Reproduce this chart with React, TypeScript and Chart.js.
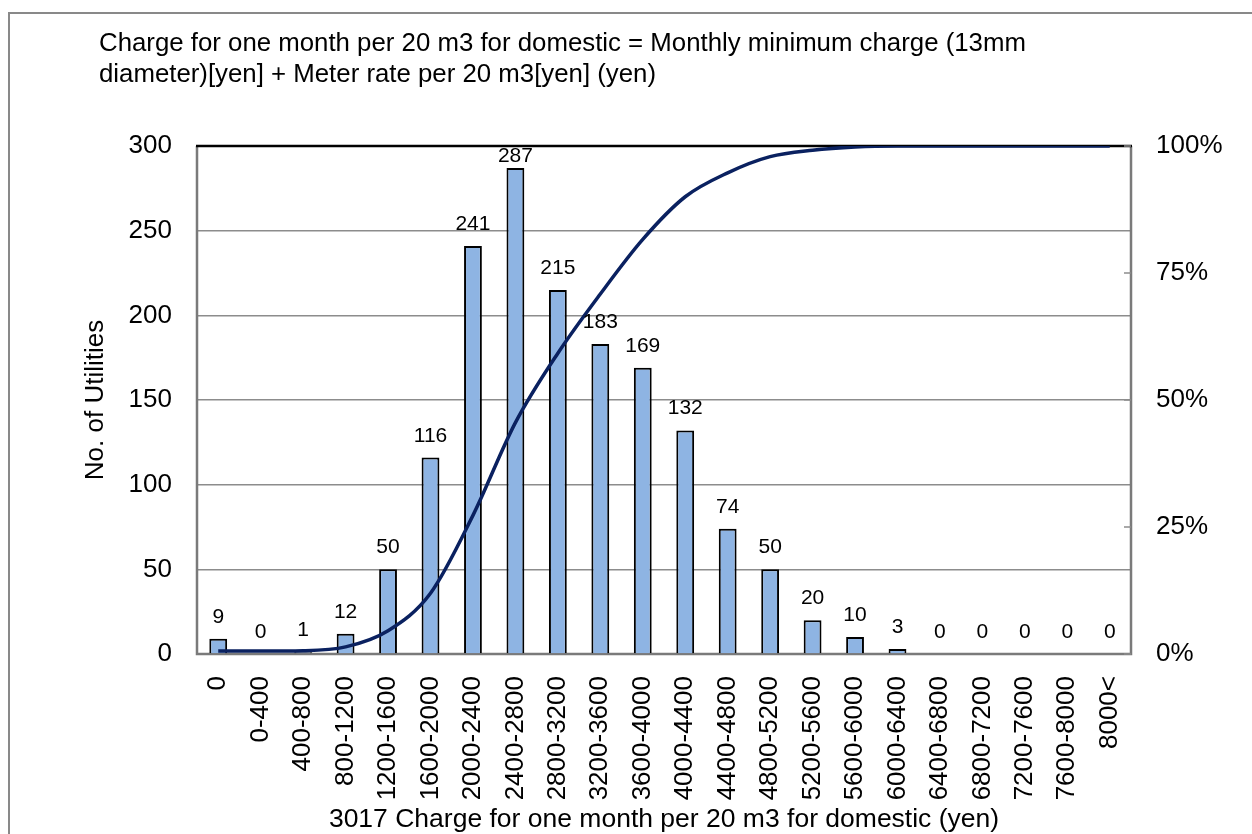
import React, { useEffect, useRef } from 'react';
import { Chart, registerables } from 'chart.js';

Chart.register(...registerables);

const categories = [
  '0', '0-400', '400-800', '800-1200', '1200-1600', '1600-2000', '2000-2400',
  '2400-2800', '2800-3200', '3200-3600', '3600-4000', '4000-4400', '4400-4800',
  '4800-5200', '5200-5600', '5600-6000', '6000-6400', '6400-6800', '6800-7200',
  '7200-7600', '7600-8000', '8000<',
];

const utilityCounts = [9, 0, 1, 12, 50, 116, 241, 287, 215, 183, 169, 132, 74, 50, 20, 10, 3, 0, 0, 0, 0, 0];

const cumulativePercent = [
  0.57, 0.57, 0.64, 1.4, 4.58, 11.96, 27.29, 45.55, 59.22, 70.87, 81.62,
  90.01, 94.72, 97.9, 99.17, 99.81, 100, 100, 100, 100, 100, 100,
];

const leftTicks = [0, 50, 100, 150, 200, 250, 300];
const rightTicks = [0, 25, 50, 75, 100];

const titleLines = [
  'Charge for one month per 20 m3 for domestic = Monthly minimum charge (13mm',
  'diameter)[yen] + Meter rate per 20 m3[yen] (yen)',
];
const xAxisTitle = '3017 Charge for one month per 20 m3 for domestic (yen)';
const yAxisTitle = 'No. of Utilities';

const FONT = '"Liberation Sans", Arial, sans-serif';

export default function App() {
  const canvasRef = useRef<HTMLCanvasElement | null>(null);

  useEffect(() => {
    const canvas = canvasRef.current;
    if (!canvas) return;

    const titlePlugin = {
      id: 'topTitle',
      afterDraw(chart: any) {
        const ctx = chart.ctx;
        ctx.save();
        ctx.fillStyle = '#000';
        ctx.font = `25.8px ${FONT}`;
        ctx.textAlign = 'left';
        ctx.textBaseline = 'alphabetic';
        ctx.fillText(titleLines[0], 89, 37);
        ctx.fillText(titleLines[1], 89, 68);
        ctx.restore();
      },
    };

    const framePlugin = {
      id: 'plotFrame',
      beforeDatasetsDraw(chart: any) {
        const { ctx, chartArea } = chart;
        const { left, right, top, bottom } = chartArea;
        ctx.save();
        ctx.lineWidth = 2.5;
        ctx.strokeStyle = '#7a7a7a';
        ctx.beginPath();
        ctx.moveTo(left, top);
        ctx.lineTo(left, bottom);
        ctx.lineTo(right, bottom);
        ctx.lineTo(right, top);
        ctx.stroke();
        ctx.strokeStyle = '#000';
        ctx.beginPath();
        ctx.moveTo(left - 1, top);
        ctx.lineTo(right + 1, top);
        ctx.stroke();
        const y2 = chart.scales.y2;
        ctx.strokeStyle = '#8c8c8c';
        ctx.lineWidth = 1.5;
        rightTicks.forEach((t) => {
          const yy = y2.getPixelForValue(t);
          ctx.beginPath();
          ctx.moveTo(right - 7, yy);
          ctx.lineTo(right, yy);
          ctx.stroke();
        });
        ctx.restore();
      },
    };

    const labelPlugin = {
      id: 'barLabels',
      afterDatasetsDraw(chart: any) {
        const { ctx, chartArea } = chart;
        const meta = chart.getDatasetMeta(1);
        ctx.save();
        ctx.fillStyle = '#000';
        ctx.font = `21px ${FONT}`;
        ctx.textAlign = 'center';
        ctx.textBaseline = 'alphabetic';
        meta.data.forEach((bar: any, i: number) => {
          let yb = bar.y - 16;
          if (yb < chartArea.top + 16) yb = chartArea.top + 16;
          ctx.fillText(String(utilityCounts[i]), bar.x, yb);
        });
        ctx.restore();
      },
    };

    const chart = new Chart(canvas, {
      type: 'bar',
      data: {
        labels: categories,
        datasets: [
          {
            type: 'line',
            label: 'Cumulative %',
            data: cumulativePercent,
            yAxisID: 'y2',
            borderColor: '#0a2160',
            borderWidth: 3.5,
            pointRadius: 0,
            fill: false,
            tension: 0.25,
            cubicInterpolationMode: 'monotone',
            order: 0,
          } as any,
          {
            type: 'bar',
            label: 'No. of Utilities',
            data: utilityCounts,
            yAxisID: 'y',
            backgroundColor: '#8eb4e3',
            borderColor: '#000000',
            borderWidth: 2,
            barPercentage: 0.42,
            categoryPercentage: 1,
            order: 1,
          } as any,
        ],
      },
      options: {
        responsive: false,
        animation: false,
        devicePixelRatio: 1,
        layout: { padding: { top: 132, left: 0, right: 0, bottom: 0 } },
        plugins: {
          legend: { display: false },
          title: { display: false },
          tooltip: { enabled: false },
        },
        scales: {
          x: {
            offset: true,
            grid: { display: false, drawTicks: false },
            border: { display: false },
            ticks: {
              autoSkip: false,
              maxRotation: 90,
              minRotation: 90,
              padding: 22,
              color: '#000',
              font: { family: FONT, size: 26 },
            },
            title: {
              display: true,
              text: xAxisTitle,
              color: '#000',
              font: { family: FONT, size: 26.5 },
              padding: { top: 0, bottom: 18 },
            },
            afterFit(scale: any) {
              scale.height = 200;
            },
          },
          y: {
            position: 'left',
            min: 0,
            max: 300,
            afterBuildTicks(scale: any) {
              scale.ticks = leftTicks.map((v) => ({ value: v }));
            },
            grid: { color: '#8c8c8c', lineWidth: 1.5, drawTicks: false },
            border: { display: false },
            ticks: {
              padding: 25,
              color: '#000',
              font: { family: FONT, size: 26 },
            },
            title: {
              display: true,
              text: yAxisTitle,
              color: '#000',
              font: { family: FONT, size: 26 },
              padding: { top: 70, bottom: 0 },
            },
            afterFit(scale: any) {
              scale.width = 187;
            },
          },
          y2: {
            position: 'right',
            min: 0,
            max: 100,
            afterBuildTicks(scale: any) {
              scale.ticks = rightTicks.map((v) => ({ value: v }));
            },
            grid: { display: false, drawTicks: false },
            border: { display: false },
            ticks: {
              padding: 25,
              color: '#000',
              font: { family: FONT, size: 26 },
              callback: (v: any) => `${v}%`,
            },
            afterFit(scale: any) {
              scale.width = 121;
            },
          },
        },
      },
      plugins: [titlePlugin, framePlugin, labelPlugin],
    });

    return () => chart.destroy();
  }, []);

  return (
    <div
      style={{
        position: 'fixed',
        left: 0,
        top: 0,
        width: 1252,
        height: 834,
        overflow: 'hidden',
        background: '#fff',
      }}
    >
      <div
        style={{
          position: 'absolute',
          left: 8,
          top: 12,
          width: 1260,
          height: 900,
          borderLeft: '2px solid #898989',
          borderTop: '2px solid #898989',
          boxSizing: 'border-box',
        }}
      >
        <canvas ref={canvasRef} width={1242} height={840} style={{ display: 'block' }} />
      </div>
    </div>
  );
}
